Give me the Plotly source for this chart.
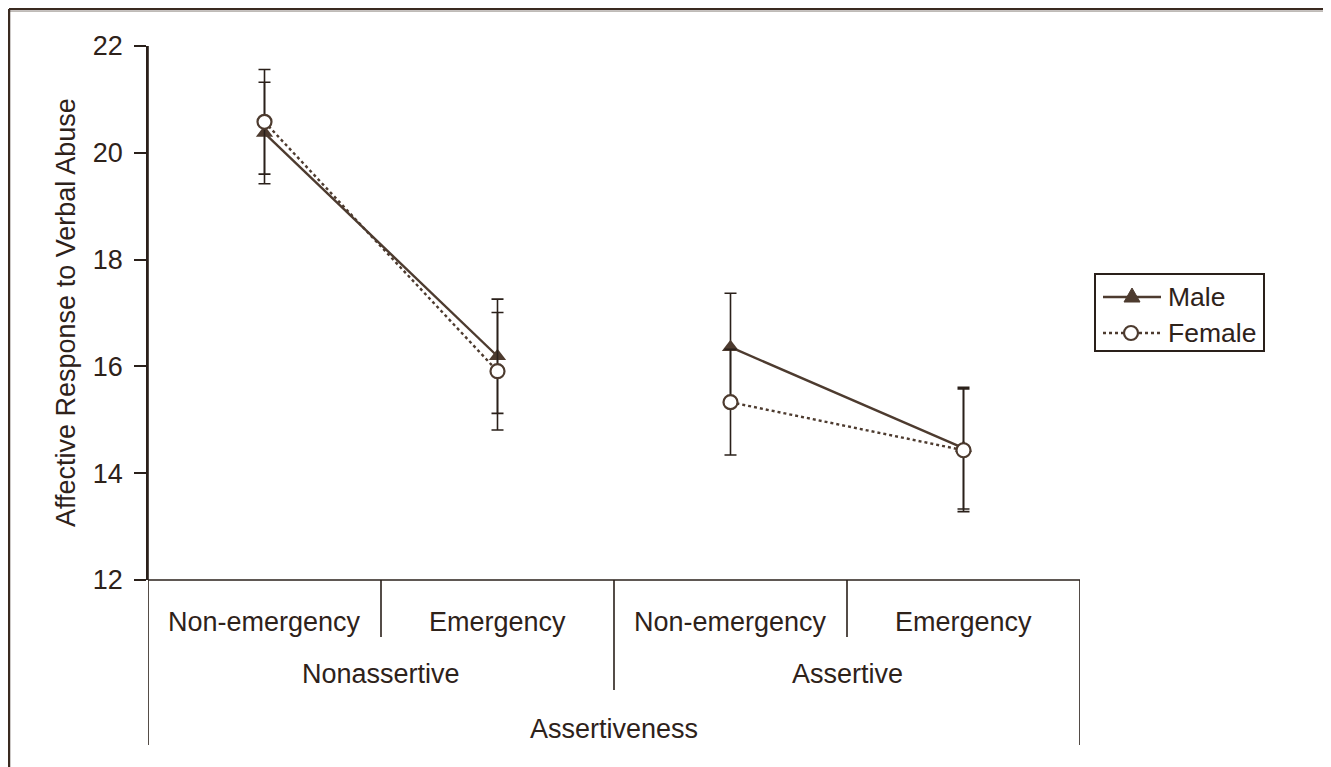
import plotly.graph_objects as go

# ---- data ----
categories = ["Non-emergency", "Emergency", "Non-emergency", "Emergency"]
groups = ["Nonassertive", "Assertive"]
group_title = "Assertiveness"
y_title = "Affective Response to Verbal Abuse"
y_ticks = [12, 14, 16, 18, 20, 22]
series_names = ["Male", "Female"]

male = [20.37, 16.19, 16.36, 14.47]
male_err = [0.95, 1.07, 1.01, 1.14]
female = [20.58, 15.91, 15.33, 14.43]
female_err = [0.98, 1.10, 0.99, 1.15]

# ---- style ----
LINE = "#4d3b2f"
TXT = "#2e221a"
AX = "#2a201a"
FONT = "Liberation Sans, Arial, sans-serif"

n = len(categories)
per_group = n // len(groups)
xs = list(range(n))

fig = go.Figure()
for g in range(len(groups)):
    idx = xs[g * per_group:(g + 1) * per_group]
    fig.add_trace(go.Scatter(
        x=idx, y=[male[i] for i in idx], name=series_names[0], mode="lines+markers",
        showlegend=False,
        line=dict(color=LINE, width=2.4),
        marker=dict(symbol="triangle-up", size=15, color=LINE),
        error_y=dict(type="data", array=[male_err[i] for i in idx], visible=True,
                     color=AX, thickness=1.6, width=6),
    ))
for g in range(len(groups)):
    idx = xs[g * per_group:(g + 1) * per_group]
    fig.add_trace(go.Scatter(
        x=idx, y=[female[i] for i in idx], name=series_names[1], mode="lines+markers",
        showlegend=False,
        line=dict(color=LINE, width=2.4, dash="dot"),
        marker=dict(symbol="circle", size=14, color="white",
                    line=dict(color=LINE, width=2.2)),
        error_y=dict(type="data", array=[female_err[i] for i in idx], visible=True,
                     color=AX, thickness=1.6, width=6),
    ))

# screen coords (page has 8px body margin): plot area x 148..1080, y 46..580
OFF = 8
PW, PH = 932.0, 534.0
def py(pix):
    return (580 - pix) / PH
def px(pix):
    return (pix - 148) / PW

shapes = []
lk = dict(color=AX, width=1.6)
shapes.append(dict(type="line", xref="x", yref="paper", x0=-0.5, x1=n - 0.5,
                   y0=0, y1=0, line=lk))
shapes.append(dict(type="line", xref="x", yref="paper", x0=-0.5, x1=-0.5,
                   y0=1, y1=py(745), line=lk))
shapes.append(dict(type="line", xref="x", yref="paper", x0=n - 0.5, x1=n - 0.5,
                   y0=0, y1=py(745), line=lk))
for i in range(1, n):
    y1 = py(690) if i % per_group == 0 else py(637)
    shapes.append(dict(type="line", xref="x", yref="paper", x0=i - 0.5, x1=i - 0.5,
                       y0=0, y1=y1, line=lk))
# outer frame (top and left)
FR = "#3a2a20"
shapes.append(dict(type="line", xref="paper", yref="paper", x0=px(9), x1=px(1345),
                   y0=py(9), y1=py(9), line=dict(color=FR, width=2.5)))
shapes.append(dict(type="line", xref="paper", yref="paper", x0=px(10), x1=px(1345),
                   y0=py(11.3), y1=py(11.3), line=dict(color="#b0aaa5", width=1)))
shapes.append(dict(type="line", xref="paper", yref="paper", x0=px(9), x1=px(9),
                   y0=py(9), y1=py(790), line=dict(color=FR, width=2.5)))

# ---- legend (drawn by hand to match the long line samples) ----
shapes.append(dict(type="rect", xref="paper", yref="paper",
                   x0=px(1095), x1=px(1264), y0=py(274), y1=py(351),
                   line=dict(color=AX, width=2), fillcolor="white"))
row_y = [297, 333]
shapes.append(dict(type="line", xref="paper", yref="paper", x0=px(1103), x1=px(1161),
                   y0=py(row_y[0]), y1=py(row_y[0]), line=dict(color=LINE, width=2.4)))
shapes.append(dict(type="path", xref="paper", yref="paper",
                   xsizemode="pixel", ysizemode="pixel",
                   xanchor=px(1132), yanchor=py(row_y[0]),
                   path="M -8,-5 L 8,-5 L 0,9 Z", fillcolor=LINE,
                   line=dict(color=LINE, width=1)))
shapes.append(dict(type="line", xref="paper", yref="paper", x0=px(1103), x1=px(1163),
                   y0=py(row_y[1]), y1=py(row_y[1]),
                   line=dict(color=LINE, width=2.4, dash="dot")))
shapes.append(dict(type="circle", xref="paper", yref="paper",
                   xsizemode="pixel", ysizemode="pixel",
                   xanchor=px(1131), yanchor=py(row_y[1]),
                   x0=-7, x1=7, y0=-7, y1=7, fillcolor="white",
                   line=dict(color=LINE, width=2.2)))

annotations = []
for k, nm in enumerate(series_names):
    annotations.append(dict(text=nm, x=px(1166), y=py(row_y[k]), xref="paper",
                            yref="paper", showarrow=False, xanchor="left",
                            yanchor="middle",
                            font=dict(family=FONT, size=26.5, color=TXT)))

cat_font = dict(family=FONT, size=27, color=TXT)
for i, c in enumerate(categories):
    annotations.append(dict(text=c, x=i, y=py(622), xref="x", yref="paper",
                            showarrow=False, font=cat_font, xanchor="center",
                            yanchor="middle"))
for g, name in enumerate(groups):
    xc = g * per_group + (per_group - 1) / 2
    annotations.append(dict(text=name, x=xc, y=py(674), xref="x", yref="paper",
                            showarrow=False, font=cat_font, xanchor="center",
                            yanchor="middle"))
annotations.append(dict(text=group_title, x=(n - 1) / 2, y=py(729), xref="x",
                        yref="paper", showarrow=False, font=cat_font,
                        xanchor="center", yanchor="middle"))
annotations.append(dict(text=y_title, x=px(66), y=py(313), xref="paper",
                        yref="paper", showarrow=False, textangle=-90,
                        font=dict(family=FONT, size=27, color=TXT),
                        xanchor="center", yanchor="middle"))

fig.update_layout(
    width=1331, height=767,
    margin=dict(l=148 - OFF, r=1331 - (1080 - OFF), t=46 - OFF,
                b=767 - (580 - OFF), autoexpand=False),
    paper_bgcolor="white", plot_bgcolor="white",
    showlegend=False,
    shapes=shapes, annotations=annotations,
    xaxis=dict(range=[-0.5, n - 0.5], showticklabels=False, showgrid=False,
               zeroline=False, showline=False, ticks=""),
    yaxis=dict(range=[12, 22], tickvals=y_ticks, showgrid=False, zeroline=False,
               showline=True, linecolor=AX, linewidth=1.6, ticks="outside",
               ticklen=12, tickwidth=1.6, tickcolor=AX, ticklabelstandoff=6,
               tickfont=dict(family=FONT, size=27, color=TXT)),
)

fig.write_html("out.html")
